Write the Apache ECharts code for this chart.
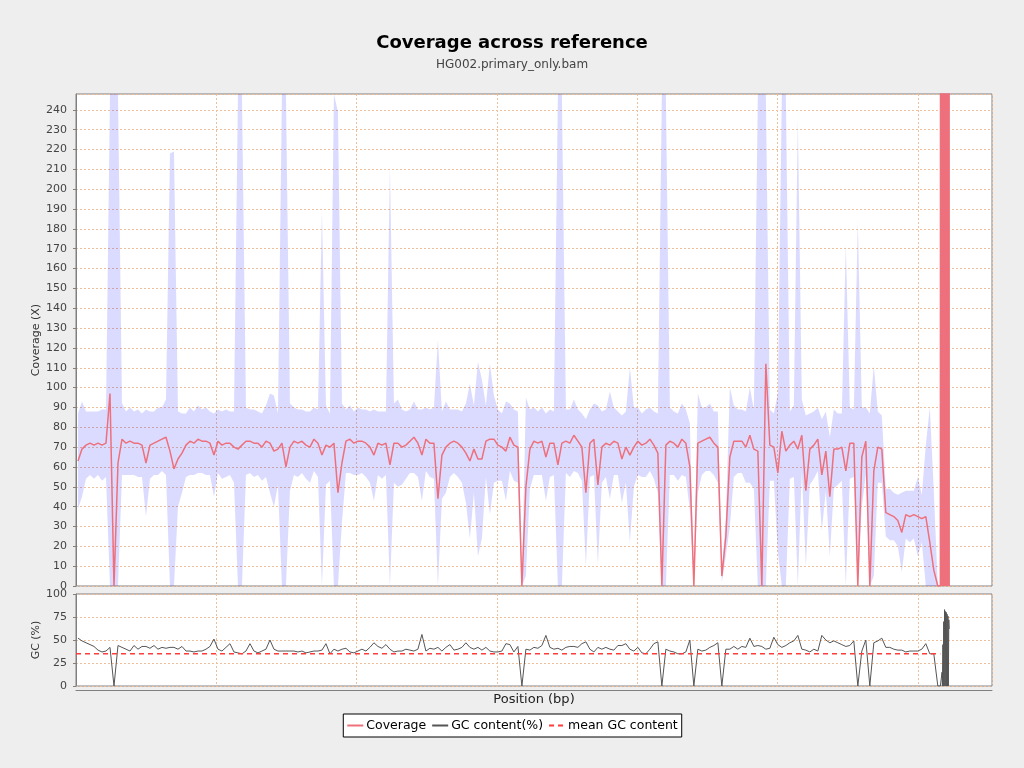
<!DOCTYPE html>
<html><head><meta charset="utf-8">
<script src="https://cdn.jsdelivr.net/npm/echarts@6/dist/echarts.min.js"></script>
<style>html,body{margin:0;padding:0;background:#eeeeee;}#c{width:1024px;height:768px;}</style>
</head><body><div id="c"></div>
<script>
// window size of each bin (bp) and axis extent
const WINDOW_BP = 14250;
const AXIS_MAX_BP = 3264000;
const AXIS_STEP_BP = 500000;

// mean coverage per window (X)
const coverage = [
63,69,71,72,71,72,71,72,97,0,
62,74,72,73,72,72,71,62,71,72,
73,74,75,68,59,64,67,71,73,72,
74,73,73,72,66,73,71,72,72,70,
69,71,73,73,72,72,70,73,72,68,
69,72,60,70,73,72,73,71,70,74,
72,66,71,70,72,47,62,73,74,72,
73,73,72,70,66,72,71,72,61,72,
72,70,71,73,75,72,66,74,72,72,
44,66,70,72,73,72,70,67,63,69,
64,64,73,74,74,71,70,68,75,71,
70,0,50,69,73,72,73,65,72,72,
61,72,73,72,76,73,70,47,72,74,
51,70,72,71,73,72,64,70,66,70,
73,71,72,74,71,67,0,71,73,72,
70,74,72,60,0,72,73,74,75,72,
70,5,25,65,73,73,73,70,76,69,
68,0,112,71,70,57,78,68,71,73,
69,76,48,69,71,74,56,68,45,69,
69,70,58,72,72,0,65,73,0,58,
70,69,37,36,35,33,27,36,35,36,
35,34,35,22,8,0];

// standard deviation of coverage per window (X)
const coverageSd = [
24,24,17,16,17,16,18,17,300,300,
300,18,16,17,16,17,16,27,17,16,
17,16,19,150,160,24,20,16,17,16,
17,16,17,16,21,16,17,17,16,18,
300,300,17,16,17,16,17,18,25,28,
18,300,300,22,17,17,16,17,18,16,
17,123,20,17,180,192,30,16,17,16,
17,16,17,18,23,16,17,16,150,20,
22,19,17,16,18,17,23,16,17,18,
80,22,23,17,16,17,18,25,39,22,
49,40,18,38,22,18,17,25,17,18,
18,3,45,20,17,16,17,22,17,16,
300,300,16,17,18,16,17,37,17,18,
40,18,17,27,17,16,22,18,44,20,
17,16,17,16,17,20,300,300,17,16,
17,18,17,22,3,25,17,16,17,16,
18,3,10,35,18,16,16,18,24,20,
300,300,300,18,17,40,300,300,17,18,
166,18,38,18,17,16,28,20,30,20,
18,17,114,18,17,184,25,17,87,53,
18,17,12,13,12,13,20,12,13,12,
20,12,36,68,40,0];

// GC content per window (%)
const gcContent = [
52,49,47,45,43,39,37,38,42,0,
44,42,40,38,44,40,43,43,41,44,
40,42,41,42,42,40,43,38,38,37,
38,38,40,43,51,40,38,42,46,37,
36,35,38,46,38,36,38,40,50,40,
38,38,38,38,38,37,38,36,37,38,
38,39,46,35,40,38,40,41,37,36,
38,40,38,42,47,43,41,45,40,37,
38,38,40,39,38,40,56,38,41,40,
42,38,42,45,39,40,42,47,42,40,
42,39,42,38,37,37,38,46,45,37,
43,0,40,39,42,41,44,55,42,40,
41,39,42,43,43,42,46,48,40,37,
42,40,42,40,39,44,44,46,40,38,
42,36,35,40,46,48,0,40,38,37,
35,35,37,50,0,40,38,39,42,44,
47,0,40,40,43,40,43,42,52,43,
44,43,40,41,53,45,42,44,47,49,
55,40,39,37,40,38,55,50,47,49,
47,45,43,44,49,0,38,50,0,47,
49,52,42,42,40,39,39,37,38,38,
38,40,46,35,35,0];

// densely sampled last contig (bp, coverage X, GC %)
const tailPositions = [3080000,3081500,3083000,3084500,3086000,3087500,3089000,3090500,3092000,3093500,3095000,
  3096500,3098000,3099500,3101000,3102500,3104000,3105500,3107000,3108500,3110000,3111500];
const tailCoverage = [0,0,1500,0,1500,0,1500,0,1500,0,1500,0,1500,0,1500,0,1500,0,1500,0,1500,0];
const tailGc = [0,0,0,0,15,0,45,0,70,0,83,0,81,0,80,0,78,0,76,0,72,62];

const meanGc = 35;
const meanGcRange = [0, 3080000];

const FONT = 'DejaVu Sans';
const positions = coverage.map((_, i) => (i + 0.5) * WINDOW_BP);
const bandData = positions.map((p, i) => [p, Math.max(0, coverage[i] - coverageSd[i]), coverage[i] + coverageSd[i]]);
const covData = positions.map((p, i) => [p, coverage[i]]).concat(tailPositions.map((p, i) => [p, tailCoverage[i]]));
const gcData = positions.map((p, i) => [p, gcContent[i]]).concat(tailPositions.map((p, i) => [p, tailGc[i]]));
const meanData = meanGcRange.map(p => [p, meanGc]);

const gridLine = {show: true, lineStyle: {color: '#efbf9c', type: [2, 2], width: 1}};
function xAx(idx, showLine) {
  return {
    type: 'value', gridIndex: idx, min: 0, max: AXIS_MAX_BP, interval: AXIS_STEP_BP,
    axisLine: {show: showLine, onZero: false, lineStyle: {color: '#808080'}},
    offset: showLine ? 4 : 0,
    axisTick: {show: false}, axisLabel: {show: false}, splitLine: gridLine,
    name: showLine ? 'Position (bp)' : '', nameLocation: 'middle', nameGap: 3, nameMoveOverlap: false,
    nameTextStyle: {fontFamily: FONT, fontSize: 13, color: '#222', verticalAlign: 'top'}
  };
}
function yAx(idx, max, step, name) {
  return {
    type: 'value', gridIndex: idx, min: 0, max: max, interval: step, offset: 4,
    axisLine: {show: true, lineStyle: {color: '#808080'}},
    axisTick: {show: true, length: 3, lineStyle: {color: '#808080'}},
    axisLabel: {fontFamily: FONT, fontSize: 11, color: '#444', margin: 5, showMaxLabel: max % step === 0},
    splitLine: gridLine,
    name: name, nameLocation: 'middle', nameGap: 30, nameRotate: 90, nameMoveOverlap: false,
    nameTextStyle: {fontFamily: FONT, fontSize: 11, color: '#333'}
  };
}

function renderBand(params, api) {
  if (params.dataIndex !== 0) return {type: 'group', children: []};
  const cs = params.coordSys;
  const clampY = y => Math.min(cs.y + cs.height, Math.max(cs.y, y));
  const top = bandData.map(d => { const c = api.coord([d[0], d[2]]); return [c[0], clampY(c[1])]; });
  const bot = bandData.map(d => { const c = api.coord([d[0], d[1]]); return [c[0], clampY(c[1])]; }).reverse();
  return {type: 'polygon', shape: {points: top.concat(bot)}, style: {fill: 'rgba(40,40,255,0.17)', stroke: null}};
}

const chart = echarts.init(document.getElementById('c'), null, {renderer: 'canvas'});
chart.setOption({
  animation: false,
  backgroundColor: '#eeeeee',
  title: {
    text: 'Coverage across reference', subtext: 'HG002.primary_only.bam',
    left: 'center', top: 29, itemGap: 7,
    textStyle: {fontFamily: FONT, fontSize: 18, fontWeight: 'bold', color: '#000'},
    subtextStyle: {fontFamily: FONT, fontSize: 12, color: '#444'}
  },
  legend: {
    data: ['Coverage', 'GC content(%)', 'mean GC content'],
    left: 'center', bottom: 31, padding: [5, 4, 5, 3], itemGap: 5, itemWidth: 16, itemHeight: 10,
    borderColor: '#000', borderWidth: 1, backgroundColor: '#fff', borderRadius: 0,
    itemStyle: {opacity: 0},
    textStyle: {fontFamily: FONT, fontSize: 12.5, color: '#000', padding: [0, 0, 0, -2]}
  },
  grid: [
    {left: 76, top: 94, width: 916, height: 492, show: true, borderColor: '#808080', borderWidth: 1, backgroundColor: '#fff'},
    {left: 76, top: 594, width: 916, height: 92, show: true, borderColor: '#808080', borderWidth: 1, backgroundColor: '#fff'}
  ],
  xAxis: [xAx(0, false), xAx(1, true)],
  yAxis: [yAx(0, 248, 10, 'Coverage (X)'), yAx(1, 100, 25, 'GC (%)')],
  series: [
    {name: 'band', type: 'custom', xAxisIndex: 0, yAxisIndex: 0, data: bandData, clip: true, silent: true,
     encode: {x: 0, y: [1, 2]}, renderItem: renderBand},
    {name: 'Coverage', type: 'line', xAxisIndex: 0, yAxisIndex: 0, data: covData, symbol: 'none',
     lineStyle: {color: '#ee707c', width: 1.5}, itemStyle: {color: '#ee707c'}},
    {name: 'GC content(%)', type: 'line', xAxisIndex: 1, yAxisIndex: 1, data: gcData, symbol: 'none',
     lineStyle: {color: '#555555', width: 1}, itemStyle: {color: '#555555'}},
    {name: 'mean GC content', type: 'line', xAxisIndex: 1, yAxisIndex: 1, data: meanData, symbol: 'none',
     lineStyle: {color: '#ff3b3b', width: 1.5, type: [5, 4]}, itemStyle: {color: '#ff3b3b'}}
  ]
});
</script></body></html>
